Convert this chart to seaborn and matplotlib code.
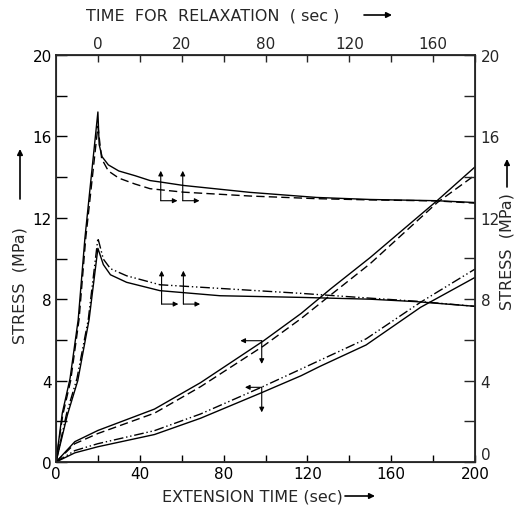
import numpy as np
import pandas as pd
import matplotlib
matplotlib.use("Agg")
import matplotlib.pyplot as plt
import seaborn as sns

# Stress vs. time: fast extension followed by relaxation, and slow extension
RELAX_START = 20  # extension time (sec) at which relaxation begins

# Fast extension, run A (solid) and run B (dashed)
ext_a_t = [0, 3, 6.7, 10.6, 13.8, 20]
ext_a_s = [0, 2.4, 4.1, 7.0, 11.0, 17.2]
rel_a_t = [0, 0.6, 2, 5, 10, 17.7, 24.9, 30.4, 40.8, 72.6, 104.4, 130, 161.7, 180]
rel_a_s = [17.2, 15.6, 15.0, 14.6, 14.3, 14.07, 13.83, 13.75, 13.59, 13.25, 13.0, 12.9, 12.84, 12.75]

ext_b_t = [0, 3.2, 7, 11, 14.2, 20]
ext_b_s = [0, 2.3, 4.0, 7.0, 11.0, 16.5]
rel_b_t = [0, 1.8, 5, 10, 17.7, 24.9, 40.8, 72.6, 104.4, 130, 161.7, 180]
rel_b_s = [16.5, 14.9, 14.3, 13.95, 13.66, 13.43, 13.26, 13.07, 12.94, 12.88, 12.83, 12.72]

# Fast extension, run C (dash-dot-dot) and run D (solid)
ext_c_t = [0, 5.1, 10, 15.4, 20]
ext_c_s = [0, 2.4, 4.1, 7.0, 11.0]
rel_c_t = [0, 2.6, 6, 13.7, 29.6, 58.3, 96.5, 130, 152, 180]
rel_c_s = [11.0, 9.97, 9.5, 9.15, 8.71, 8.53, 8.29, 8.05, 7.9, 7.65]

ext_d_t = [0, 5.4, 10.4, 15.8, 20]
ext_d_s = [0, 2.3, 4.0, 7.0, 10.5]
rel_d_t = [0, 2.6, 6, 13.7, 29.6, 58.3, 96.5, 130, 152, 180]
rel_d_s = [10.5, 9.7, 9.2, 8.83, 8.42, 8.17, 8.09, 8.0, 7.88, 7.65]

# Slow extension, runs E (solid) / F (dashed) and G (dash-dot-dot) / H (solid)
slow_ef_t = [0, 9, 20, 47, 69, 99, 117, 131, 150, 182, 200]
slow_e_s = [0, 1.0, 1.55, 2.6, 3.9, 5.95, 7.3, 8.5, 10.05, 12.85, 14.5]
slow_f_s = [0, 0.9, 1.4, 2.4, 3.7, 5.7, 7.05, 8.2, 9.75, 12.75, 14.1]

slow_gh_t = [0, 9, 20, 47, 69, 98, 117, 126, 148, 174, 200]
slow_g_s = [0, 0.56, 0.9, 1.54, 2.36, 3.67, 4.57, 5.0, 6.05, 7.85, 9.48]
slow_h_s = [0, 0.45, 0.75, 1.35, 2.15, 3.4, 4.24, 4.7, 5.75, 7.6, 9.07]

x_ticks = [0, 40, 80, 120, 160, 200]
y_ticks = [0, 4, 8, 12, 16, 20]
top_ticks = [0, 40, 80, 120, 160]
top_labels = ["0", "20", "80", "120", "160"]


def run(name, ext_t, ext_s, rel_t=None, rel_s=None):
    t = list(ext_t)
    s = list(ext_s)
    if rel_t is not None:
        t += [RELAX_START + v for v in rel_t[1:]]
        s += list(rel_s[1:])
    return pd.DataFrame({"time": t, "stress": s, "run": name})


DASH = (6, 3)
DASH_DOT2 = (7, 2, 1, 2, 1, 2)
runs = [
    (run("A", ext_a_t, ext_a_s, rel_a_t, rel_a_s), None),
    (run("B", ext_b_t, ext_b_s, rel_b_t, rel_b_s), DASH),
    (run("C", ext_c_t, ext_c_s, rel_c_t, rel_c_s), DASH_DOT2),
    (run("D", ext_d_t, ext_d_s, rel_d_t, rel_d_s), None),
    (run("E", slow_ef_t, slow_e_s), None),
    (run("F", slow_ef_t, slow_f_s), DASH),
    (run("G", slow_gh_t, slow_g_s), DASH_DOT2),
    (run("H", slow_gh_t, slow_h_s), None),
]

sns.set_style("ticks")
plt.rcParams["font.family"] = ["DejaVu Sans"]

fig = plt.figure(figsize=(5.17, 5.10), dpi=100)
ax = fig.add_axes([56 / 517, 47 / 510, 419 / 517, 407 / 510])

for df, dash in runs:
    sns.lineplot(data=df, x="time", y="stress", sort=False, estimator=None,
                 color="black", linewidth=1.0, ax=ax, legend=False)
    if dash is not None:
        ax.get_lines()[-1].set_dashes(dash)

ax.set_xlim(0, 200)
ax.set_ylim(0, 20)
ax.set_xticks(x_ticks)
ax.set_xticks(np.arange(0, 201, 20), minor=True)
ax.set_yticks(y_ticks)
ax.set_yticks(np.arange(0, 21, 2), minor=True)
ax.set_xlabel("")
ax.set_ylabel("")
for sp in ax.spines.values():
    sp.set_visible(True)
    sp.set_linewidth(1.3)
ax.tick_params(axis="both", which="both", direction="in", labelsize=11, colors="black")
ax.tick_params(axis="y", which="both", length=8, width=1.0, pad=3)
ax.tick_params(axis="x", which="both", length=5, width=1.0, pad=3)

# right-hand stress scale
axr = ax.twinx()
axr.set_ylim(0, 20)
axr.set_yticks(y_ticks)
axr.set_yticklabels([str(v) for v in y_ticks])
axr.set_yticks(np.arange(0, 21, 2), minor=True)
axr.tick_params(axis="y", which="both", direction="in", length=8, width=1.0,
                labelsize=11, pad=4)
axr.get_yticklabels()[0].set_va("bottom")

# top relaxation-time scale
axt = ax.secondary_xaxis("top", functions=(lambda x: x - RELAX_START,
                                            lambda x: x + RELAX_START))
axt.set_xticks(top_ticks)
axt.set_xticklabels(top_labels)
axt.set_xticks(np.arange(0, 181, 20), minor=True)
axt.tick_params(axis="x", which="both", direction="in", length=5, width=1.0,
                labelsize=11, pad=3)


def arrow(x0, y0, x1, y1):
    ax.annotate("", xy=(x1, y1), xytext=(x0, y0),
                arrowprops=dict(arrowstyle="-|>", color="black", lw=0.8,
                                mutation_scale=7, shrinkA=0, shrinkB=0))


# axis markers on the relaxation curves (up / right)
for cx, cy, top in [(50.0, 12.84, 14.31), (60.5, 12.84, 14.31),
                    (50.4, 7.76, 9.4), (60.8, 7.76, 9.4)]:
    arrow(cx, cy, cx, top)
    arrow(cx, cy, cx + 8, cy)

# axis markers on the slow extension curves (left / down)
for cx, cy, left, down in [(98.2, 5.96, 88.0, 4.82), (98.2, 3.67, 90.2, 2.44)]:
    arrow(cx, cy, left, cy)
    arrow(cx, cy, cx, down)


def fig_arrow(x0, y0, x1, y1):
    # pixel coordinates measured from the top-left corner of the figure
    fig.add_artist(matplotlib.patches.FancyArrowPatch(
        (x0 / 517, 1 - y0 / 510), (x1 / 517, 1 - y1 / 510),
        transform=fig.transFigure, arrowstyle="-|>", mutation_scale=8,
        color="black", lw=1.2, shrinkA=0, shrinkB=0))


fig.text(252 / 517, 1 - 497 / 510, "EXTENSION TIME (sec)", ha="center",
         va="center", fontsize=11.5)
fig_arrow(345, 497, 375, 497)

fig.text(213 / 517, 1 - 16 / 510, "TIME  FOR  RELAXATION  ( sec )", ha="center",
         va="center", fontsize=11.5)
fig_arrow(364, 16, 392, 16)

fig.text(20 / 517, 1 - 286 / 510, "STRESS  (MPa)", rotation=90, ha="center",
         va="center", fontsize=11.5)
fig_arrow(20, 200, 20, 150)

fig.text(507 / 517, 1 - 252 / 510, "STRESS  (MPa)", rotation=90, ha="center",
         va="center", fontsize=11.5)
fig_arrow(507, 188, 507, 160)

fig.savefig("out.png", dpi=100)
